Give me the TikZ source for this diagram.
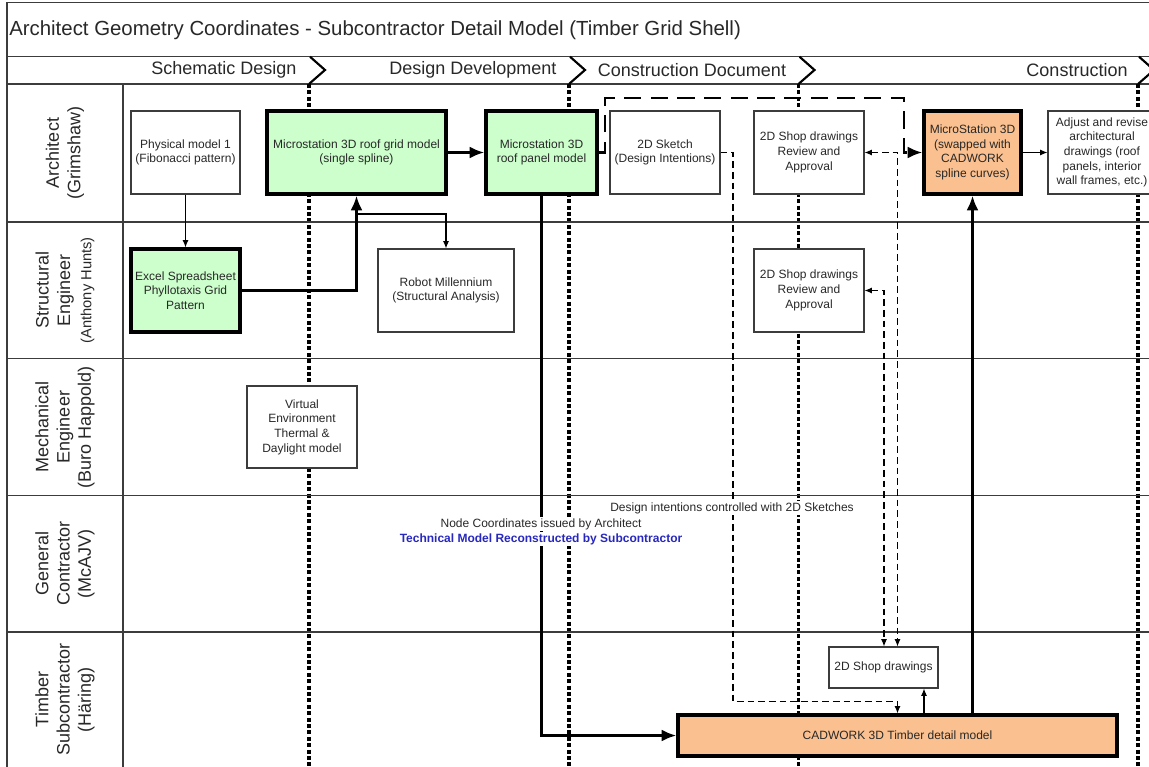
\documentclass[tikz,border=0pt]{standalone}
\usepackage{fontspec}
\setmainfont{Liberation Sans}
\usetikzlibrary{arrows.meta}
\definecolor{grn}{RGB}{204,255,204}
\definecolor{org}{RGB}{250,192,143}
\definecolor{ln}{RGB}{60,60,60}
\definecolor{txt}{RGB}{40,40,40}
\definecolor{blu}{RGB}{40,40,190}
\begin{document}
\begin{tikzpicture}[x=0.75pt,y=-0.75pt,
  box/.style={draw=ln, line width=0.8pt, fill=white, align=center, text=txt,
    font=\fontsize{9}{11}\selectfont, inner sep=1pt},
  bsz/.style 2 args={minimum width=#1*0.75pt, minimum height=#2*0.75pt},
  heavy/.style={draw=black, line width=2.4pt},
  lane/.style={draw=ln, line width=1.1pt},
  divider/.style={draw=black, line width=2.3pt, dash pattern=on 3pt off 1.8pt},
  chev/.style={draw=black, line width=1.6pt},
  phase/.style={font=\fontsize{13.5}{16}\selectfont, text=txt},
  who/.style={rotate=90, align=center, text=txt, font=\fontsize{13.5}{16}\selectfont},
  thickarrow/.style={draw=black, line width=2.2pt, -{Latex[length=11pt,width=9pt]}},
  thinarrow/.style={draw=black, line width=0.8pt, -{Latex[length=5.5pt,width=4.5pt]}},
  thickdash/.style={draw=black, line width=2.2pt, dash pattern=on 13pt off 7pt, -{Latex[length=11pt,width=9pt]}},
  thindash/.style={draw=black, line width=0.8pt, dash pattern=on 5pt off 3pt, -{Latex[length=5.5pt,width=4.5pt]}},
  bothdash/.style={draw=black, line width=0.8pt, dash pattern=on 5pt off 3pt, {Latex[length=5.5pt,width=4.5pt]}-{Latex[length=5.5pt,width=4.5pt]}},
  note/.style={fill=white, inner sep=1pt, text=txt, font=\fontsize{9}{11}\selectfont}
]
\useasboundingbox (0,0) rectangle (1149,767);
\clip (0,0) rectangle (1149,767);
\fill[white] (0,0) rectangle (1149,767);

% frame, title, phase band
\draw[lane] (7,2.7) rectangle (1170,790);
\node[anchor=west, inner sep=0pt, text=txt, font=\fontsize{15.3}{18}\selectfont] (title) at (9,30)
  {Architect Geometry Coordinates - Subcontractor Detail Model (Timber Grid Shell)};
\draw[lane] (7,56.7) -- (1149,56.7);
\draw[lane] (7,84) -- (1149,84);
\node[phase] (p1) at (224,70) {Schematic Design};
\node[phase] (p2) at (473,70) {Design Development};
\node[phase] (p3) at (692,70) {Construction Document};
\node[phase] (p4) at (1077,70) {Construction};
\foreach \xd in {309,569,798.5,1138} {
  \draw[chev] (\xd+1,56.7) -- (\xd+16,70) -- (\xd,84);
  \draw[divider] (\xd,84) -- (\xd,767);
}

% lanes
\draw[lane] (123,84) -- (123,767);
\foreach \yl in {222,358.7,495.3,632} \draw[lane] (7,\yl) -- (1149,\yl);
\node[who] (l1) at (65,153) {Architect\\(Grimshaw)};
\node[who] (l2) at (65,290.3) {Structural\\Engineer\\{\fontsize{11}{13}\selectfont(Anthony Hunts)}};
\node[who] (l3) at (65,427) {Mechanical\\Engineer\\(Buro Happold)};
\node[who] (l4) at (65,563.7) {General\\Contractor\\(McAJV)};
\node[who] (l5) at (65,699.5) {Timber\\Subcontractor\\(Häring)};

% boxes
\node[box, bsz={109}{83}] (phys) at (185.5,152.5) {Physical model 1\\(Fibonacci pattern)};
\node[box, heavy, fill=grn, bsz={179}{83}] (grid) at (356.5,152.5) {Microstation 3D roof grid model\\(single spline)};
\node[box, heavy, fill=grn, bsz={111}{83}] (panel) at (541.5,152.5) {Microstation 3D\\roof panel model};
\node[box, bsz={110}{83}] (sketch) at (665,152.5) {2D Sketch\\(Design Intentions)};
\node[box, bsz={110}{83}] (reviewA) at (809,152.5) {2D Shop drawings\\Review and\\Approval};
\node[box, heavy, fill=org, bsz={97}{83}] (micro) at (972.5,152.5) {MicroStation 3D\\(swapped with\\CADWORK\\spline curves)};
\node[box, bsz={108}{83}] (adjust) at (1102,152.5) {Adjust and revise\\architectural\\drawings (roof\\panels, interior\\wall frames, etc.)};
\node[box, heavy, fill=grn, bsz={109}{83}] (excel) at (185.5,290.5) {Excel Spreadsheet\\Phyllotaxis Grid\\Pattern};
\node[box, bsz={136}{83}] (robot) at (446,290.5) {Robot Millennium\\(Structural Analysis)};
\node[box, bsz={110}{83}] (reviewS) at (809,290.5) {2D Shop drawings\\Review and\\Approval};
\node[box, bsz={110}{82}] (virtual) at (302,427) {Virtual\\Environment\\Thermal \&\\Daylight model};
\node[box, bsz={109}{41}] (shop) at (883.5,667.5) {2D Shop drawings};
\node[box, heavy, fill=org, bsz={439}{41}] (cad) at (897.5,735.5) {CADWORK 3D Timber detail model};

% connector helper coordinates
\coordinate (br) at (356.5,214);
\coordinate (d1) at (605,98);
\coordinate (d2) at (904,98);
\coordinate (s1) at (733,701.5);
\coordinate (s2) at (897.5,701.5);
\coordinate (va) at (897.5,0);
\coordinate (vs) at (884,0);
\coordinate (up) at (924,0);

% connectors
\draw[thickarrow] (excel.east) -| (grid.south);
\draw[thickarrow] (grid.east) -- (panel.west);
\draw[thickarrow] (panel.south) |- (cad.west);
\draw[thickarrow] (cad.north -| micro.south) -- (micro.south);
\draw[thinarrow] (phys.south) -- (excel.north);
\draw[thinarrow] (br) -| (robot.north);
\draw[thinarrow] (micro.east) -- (adjust.west);
\draw[thinarrow] (cad.north -| up) -- (shop.south -| up);
\draw[thickdash] (panel.east) -| (d1) -- (d2) |- (micro.west);
\draw[thindash] (sketch.east) -| (s1) -- (s2) -- (cad.north);
\draw[bothdash] (reviewA.east) -| (va |- shop.north);
\draw[bothdash] (reviewS.east) -| (vs |- shop.north);

% notes
\node[note] (n1) at (732,508) {Design intentions controlled with 2D Sketches};
\node[note] (n2) at (541,524) {Node Coordinates issued by Architect};
\node[note, text=blu, font=\fontsize{9}{11}\selectfont\bfseries] (n3) at (541,539) {Technical Model Reconstructed by Subcontractor};
\end{tikzpicture}
\end{document}
